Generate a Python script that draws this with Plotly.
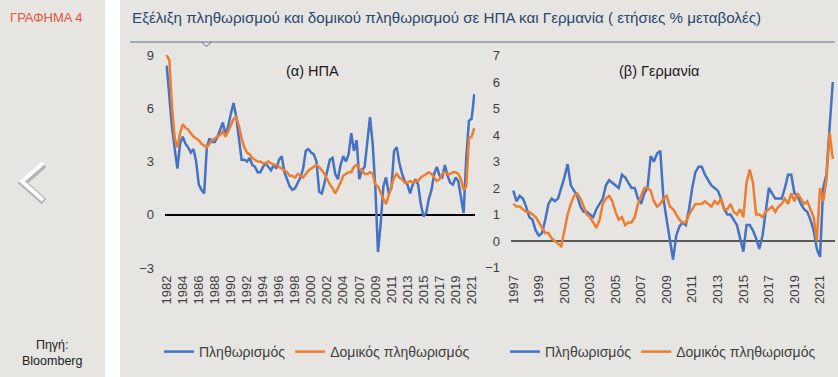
import plotly.graph_objects as go

# ---------------- data ----------------
us_ticks = ['1982', '1984', '1986', '1988', '1990', '1992', '1994', '1996', '1998', '2000',
            '2002', '2004', '2007', '2009', '2011', '2013', '2015', '2017', '2019', '2021']
us_cpi = [8.4, 6.6, 4.9, 3.7, 2.6, 4.0, 4.4, 4.0, 3.8, 3.5,
          3.7, 3.0, 1.7, 1.4, 1.2, 3.8, 4.3, 4.1, 4.1, 4.4,
          4.8, 5.2, 4.5, 5.0, 5.7, 6.3, 5.5, 4.4, 3.1, 3.1,
          3.0, 3.2, 2.8, 2.7, 2.4, 2.4, 2.7, 2.9, 2.7, 2.5,
          2.8, 2.6, 3.1, 3.3, 2.4, 2.0, 1.6, 1.4, 1.5, 1.8,
          2.1, 2.6, 3.6, 3.7, 3.5, 3.4, 3.0, 1.3, 1.2, 1.8,
          2.5, 3.1, 3.2, 2.3, 2.0, 2.8, 3.3, 3.0, 3.4, 4.6,
          3.6, 4.2, 2.0, 2.5, 2.7, 4.1, 5.5, 4.0, 1.5, -2.1,
          -0.5, 1.6, 2.1, 1.2, 1.5, 3.6, 3.8, 2.9, 2.3, 1.9,
          1.7, 1.2, 1.7, 2.0, 1.7, 0.6, -0.1, 0.1, 0.9, 1.4,
          2.3, 2.7, 2.2, 2.1, 2.8, 2.2, 1.8, 1.7, 2.1, 1.9,
          1.0, 0.1, 3.2, 5.3, 5.4, 6.8]
us_core = [9.0, 8.7, 6.0, 4.3, 3.8, 4.6, 5.1, 4.9, 4.8, 4.6,
           4.4, 4.3, 4.2, 4.0, 3.9, 3.8, 4.0, 4.2, 4.3, 4.4,
           4.5, 4.7, 4.4, 4.7, 5.1, 5.4, 5.5, 5.0, 4.3, 3.8,
           3.5, 3.4, 3.2, 3.1, 3.0, 3.0, 2.9, 2.9, 3.0, 2.9,
           2.8, 2.8, 2.7, 2.6, 2.5, 2.4, 2.2, 2.2, 2.1, 2.3,
           2.2, 2.1, 2.3, 2.5, 2.6, 2.7, 2.8, 2.7, 2.5, 2.3,
           2.0, 1.7, 1.5, 1.2, 1.5, 1.8, 2.2, 2.3, 2.4, 2.4,
           2.7, 2.8, 2.6, 2.5, 2.3, 2.3, 2.4, 2.3, 1.7, 1.6,
           1.2, 0.9, 0.6, 1.1, 1.6, 2.1, 2.3, 2.1, 2.0, 1.8,
           1.8, 1.9, 1.8, 1.9, 1.9, 2.1, 2.2, 2.3, 2.4, 2.3,
           2.1, 1.9, 2.0, 2.3, 2.4, 2.3, 2.3, 2.4, 2.4, 2.3,
           2.0, 1.4, 1.6, 4.3, 4.4, 4.9]

de_ticks = ['1997', '1999', '2001', '2003', '2005', '2007', '2009', '2011', '2013',
            '2015', '2017', '2019', '2021']
de_cpi = [1.9, 1.5, 1.7, 1.6, 1.3, 0.9, 0.8, 0.4, 0.2, 0.3,
          0.8, 1.4, 1.6, 1.5, 1.6, 2.0, 2.4, 2.9, 2.1, 1.9,
          1.7, 1.3, 1.1, 1.1, 1.0, 0.9, 1.2, 1.4, 1.6, 2.1,
          2.3, 2.2, 2.1, 2.0, 2.5, 2.4, 2.2, 2.0, 2.0, 1.6,
          1.4, 1.8, 2.0, 3.2, 3.0, 3.3, 3.4, 1.6, 0.8, 0.0,
          -0.7, 0.2, 0.55, 0.7, 0.6, 1.2, 2.0, 2.6, 2.8, 2.8,
          2.5, 2.3, 2.1, 2.0, 1.9, 1.6, 1.2, 1.0, 1.0, 0.8,
          0.6, 0.1, -0.4, 0.6, 0.6, 0.4, 0.1, -0.3, 0.2, 1.1,
          2.0, 1.8, 1.6, 1.6, 1.6, 2.0, 2.5, 2.5, 1.8, 1.7,
          1.4, 1.2, 1.1, 0.8, 0.4, -0.3, -0.6, 2.0, 2.5, 4.3,
          6.0]
de_core = [1.4, 1.3, 1.3, 1.2, 1.1, 1.1, 1.0, 0.9, 0.7, 0.5,
           0.3, 0.3, 0.1, 0.0, -0.1, -0.2, 0.4, 1.0, 1.4, 1.7,
           1.8, 1.6, 1.3, 1.0, 0.9, 0.7, 0.5, 0.8, 1.4, 1.6,
           1.7, 1.5, 1.1, 0.8, 0.9, 0.6, 0.7, 0.7, 0.9, 1.4,
           1.7, 2.0, 2.0, 1.9, 1.5, 1.3, 1.4, 1.6, 1.7, 1.3,
           1.2, 1.0, 0.8, 0.7, 0.7, 1.0, 1.2, 1.4, 1.4, 1.4,
           1.5, 1.4, 1.3, 1.5, 1.4, 1.6, 1.2, 1.2, 1.4, 1.1,
           1.0, 1.2, 0.9, 2.2, 2.7, 2.2, 1.0, 1.0, 0.9, 1.1,
           1.2, 1.3, 1.1, 1.3, 1.4, 1.6, 1.4, 1.8, 1.5, 1.8,
           1.6, 1.4, 1.5, 1.2, 0.9, 0.0, 2.0, 1.5, 2.3, 4.1,
           3.1]

# ---------------- layout helpers ----------------
W, H = 838, 377
BG = '#e6e5e1'
FONT = 'Liberation Sans, Arial, sans-serif'
BLUE = '#4472C4'
ORANGE = '#ED7D31'


def fx(px):
    return px / W


def fy(py):
    return 1 - py / H


fig = go.Figure()

us_idx = list(range(len(us_cpi)))
de_idx = list(range(len(de_cpi)))

fig.add_trace(go.Scatter(x=us_idx, y=us_cpi, mode='lines', name='Πληθωρισμός',
                         line=dict(color=BLUE, width=2.5), xaxis='x', yaxis='y',
                         legend='legend', hoverinfo='skip'))
fig.add_trace(go.Scatter(x=us_idx, y=us_core, mode='lines', name='Δομικός πληθωρισμός',
                         line=dict(color=ORANGE, width=2.5), xaxis='x', yaxis='y',
                         legend='legend', hoverinfo='skip'))
fig.add_trace(go.Scatter(x=de_idx, y=de_cpi, mode='lines', name='Πληθωρισμός',
                         line=dict(color=BLUE, width=2.5), xaxis='x2', yaxis='y2',
                         legend='legend2', hoverinfo='skip'))
fig.add_trace(go.Scatter(x=de_idx, y=de_core, mode='lines', name='Δομικός πληθωρισμός',
                         line=dict(color=ORANGE, width=2.5), xaxis='x2', yaxis='y2',
                         legend='legend2', hoverinfo='skip'))

tickfont = dict(family=FONT, size=13, color='#404040')
us_step = 6
de_step = 8

fig.update_layout(
    width=W, height=H,
    margin=dict(l=0, r=0, t=0, b=0, autoexpand=False),
    paper_bgcolor=BG, plot_bgcolor='rgba(0,0,0,0)',
    font=dict(family=FONT, color='#404040'),
    xaxis=dict(domain=[fx(165), fx(475)], range=[-0.64, 115.26], anchor='y',
               tickmode='array', tickvals=[i * us_step for i in range(len(us_ticks))],
               ticktext=us_ticks, tickangle=-90, tickfont=tickfont,
               showgrid=False, zeroline=False, showline=False, ticks='',
               ticklabelstandoff=4, automargin=False, fixedrange=True),
    yaxis=dict(domain=[fy(268), fy(55)], range=[-3, 9], anchor='x',
               tickmode='array', tickvals=[-3, 0, 3, 6, 9], tickfont=tickfont,
               showgrid=False, zeroline=True, zerolinecolor='#000000', zerolinewidth=1.5,
               showline=False, ticks='', ticklabelstandoff=10, automargin=False,
               fixedrange=True),
    xaxis2=dict(domain=[fx(511), fx(835)], range=[-0.72, 100.69], anchor='y2',
                tickmode='array', tickvals=[i * de_step for i in range(len(de_ticks))],
                ticktext=de_ticks, tickangle=-90, tickfont=tickfont,
                showgrid=False, zeroline=False, showline=False, ticks='',
                ticklabelstandoff=4, automargin=False, fixedrange=True),
    yaxis2=dict(domain=[fy(267.5), fy(55.5)], range=[-1, 7], anchor='x2',
                tickmode='array', tickvals=list(range(-1, 8)), tickfont=tickfont,
                showgrid=False, zeroline=True, zerolinecolor='#595959', zerolinewidth=1.5,
                showline=False, ticks='', ticklabelstandoff=10, automargin=False,
                fixedrange=True),
    legend=dict(orientation='h', x=fx(159), y=fy(352), xanchor='left', yanchor='middle',
                font=dict(family=FONT, size=14, color='#404040'),
                bgcolor='rgba(0,0,0,0)', itemwidth=30),
    legend2=dict(orientation='h', x=fx(505), y=fy(352), xanchor='left', yanchor='middle',
                 font=dict(family=FONT, size=14, color='#404040'),
                 bgcolor='rgba(0,0,0,0)', itemwidth=30),
    showlegend=True,
)

shapes = [
    # white separator strip between side bar and main panel
    dict(type='rect', xref='paper', yref='paper', x0=fx(105), x1=fx(120), y0=0, y1=1,
         fillcolor='#ffffff', line=dict(width=0), layer='below'),
    # rule under the title
    dict(type='line', xref='paper', yref='paper', x0=fx(130), x1=fx(835), y0=fy(42), y1=fy(42),
         line=dict(color='#5f7391', width=1)),
    dict(type='path', xref='paper', yref='paper',
         path=f'M{fx(201.5)},{fy(42)} L{fx(206.5)},{fy(46.5)} L{fx(211.5)},{fy(42)}',
         line=dict(color='#5f7391', width=1)),
    # chevron shadow + chevron
    dict(type='path', xref='paper', yref='paper',
         path=f'M{fx(44)},{fy(164.5)} L{fx(23)},{fy(183)} L{fx(44)},{fy(201.5)}',
         line=dict(color='rgba(90,90,90,0.35)', width=7)),
    dict(type='path', xref='paper', yref='paper',
         path=f'M{fx(43)},{fy(163)} L{fx(22)},{fy(181.5)} L{fx(43)},{fy(200)}',
         line=dict(color='#ffffff', width=4)),
]
fig.update_layout(shapes=shapes)

annotations = [
    dict(text='ΓΡΑΦΗΜΑ 4', x=fx(8), y=fy(17), xanchor='left', yanchor='middle',
         font=dict(family=FONT, size=13, color='#e0553c')),
    dict(text='Πηγή:<br>Bloomberg', x=fx(52), y=fy(353), xanchor='center', yanchor='middle',
         font=dict(family=FONT, size=12.5, color='#222222')),
    dict(text='Εξέλιξη πληθωρισμού και δομικού πληθωρισμού σε ΗΠΑ και Γερμανία ( ετήσιες % μεταβολές)',
         x=fx(130), y=fy(17), xanchor='left', yanchor='middle',
         font=dict(family=FONT, size=15.2, color='#2b4870')),
    dict(text='(α) ΗΠΑ', x=fx(312), y=fy(71), xanchor='center', yanchor='middle',
         font=dict(family=FONT, size=14.5, color='#1a1a1a')),
    dict(text='(β) Γερμανία', x=fx(659), y=fy(71), xanchor='center', yanchor='middle',
         font=dict(family=FONT, size=14.5, color='#1a1a1a')),
]
for a in annotations:
    a.update(xref='paper', yref='paper', showarrow=False)
fig.update_layout(annotations=annotations)

fig.write_html('out.html',
               config={'displayModeBar': False, 'staticPlot': False},
               post_script="document.body.style.margin='0';document.body.style.overflow='hidden';")
